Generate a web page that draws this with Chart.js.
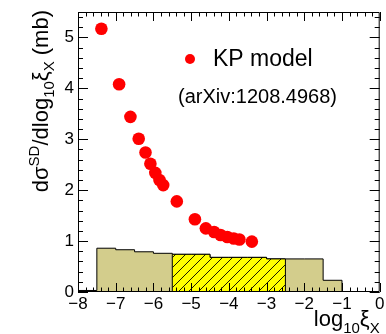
<!DOCTYPE html>
<html>
<head>
<meta charset="utf-8">
<script src="https://cdn.jsdelivr.net/npm/chart.js@4.4.1/dist/chart.umd.min.js"></script>
<style>
  html, body { margin: 0; padding: 0; background: #fff; }
  #wrap { width: 386px; height: 334px; }
</style>
</head>
<body>
<div id="wrap"><canvas id="sdChart" width="386" height="334"></canvas></div>
<script>
// KP model points (log10 xi_X, dsigma/dlog10 xi_X in mb)
const kpX = [-7.38, -6.91, -6.61, -6.39, -6.21, -6.08, -5.95, -5.84, -5.74,
             -5.38, -4.90, -4.61, -4.39, -4.22, -4.04, -3.87, -3.72, -3.39];
const kpY = [5.17, 4.08, 3.44, 3.01, 2.74, 2.52, 2.34, 2.20, 2.10,
             1.78, 1.43, 1.25, 1.18, 1.12, 1.08, 1.05, 1.03, 0.99];

// histogram: lower bin edges and contents, bins are 0.5 wide
const binLow = [-8, -7.5, -7, -6.5, -6, -5.5, -5, -4.5, -4, -3.5, -3, -2.5, -2, -1.5];
const binVal = [0.03, 0.86, 0.83, 0.79, 0.76, 0.74, 0.74, 0.68, 0.68, 0.68, 0.65, 0.65, 0.65, 0.23];
const binWidth = 0.5;
const hatchFrom = -5.5, hatchTo = -2.5;

const xTicks = [-8, -7, -6, -5, -4, -3, -2, -1, 0];
const yTicks = [0, 1, 2, 3, 4, 5];

const FONT = '"Liberation Sans", Arial, Helvetica, sans-serif';

// stepped outline of the bins between lo and hi
function histPoints(lo, hi) {
  const pts = [{ x: lo, y: 0 }];
  binLow.forEach((b, i) => {
    if (b >= lo - 1e-9 && b + binWidth <= hi + 1e-9) pts.push({ x: b, y: binVal[i] });
  });
  pts.push({ x: hi, y: 0 });
  return pts;
}

// yellow with "/" hatching
function hatchPattern() {
  const c = document.createElement("canvas");
  c.width = 10; c.height = 10;
  const g = c.getContext("2d");
  g.fillStyle = "#ffff00";
  g.fillRect(0, 0, 10, 10);
  g.strokeStyle = "#000";
  g.lineWidth = 0.9;
  g.beginPath();
  g.moveTo(-1, 11); g.lineTo(11, -1);
  g.stroke();
  return g.createPattern(c, "repeat");
}

function minusLabel(v) {
  return v < 0 ? "\u2212" + Math.abs(v) : String(v);
}

// draw text pieces with sub/superscripts along +x from (0,0)
function richWidth(ctx, parts) {
  let w = 0;
  parts.forEach(p => { ctx.font = p.size + "px " + FONT; w += ctx.measureText(p.t).width; });
  return w;
}
function richDraw(ctx, parts, x0) {
  let x = x0;
  parts.forEach(p => {
    ctx.font = p.size + "px " + FONT;
    ctx.fillText(p.t, x, p.dy || 0);
    x += ctx.measureText(p.t).width;
  });
}

const framePlugin = {
  id: "frame",
  afterDatasetsDraw(chart) {
    const { ctx, chartArea: a, scales: { x, y } } = chart;
    ctx.save();
    ctx.strokeStyle = "#000";
    ctx.lineWidth = 1;
    ctx.beginPath();
    ctx.rect(a.left + 0.5, a.top + 0.5, a.right - a.left - 1, a.bottom - a.top - 1);
    ctx.stroke();
    ctx.beginPath();
    for (let i = 0; i <= 40; i++) {
      const px = Math.round(x.getPixelForValue(-8 + i * 0.2)) + 0.5;
      const len = i % 5 === 0 ? 9 : 4.5;
      ctx.moveTo(px, a.bottom); ctx.lineTo(px, a.bottom - len);
      ctx.moveTo(px, a.top); ctx.lineTo(px, a.top + len);
    }
    for (let i = 0; i <= 27; i++) {
      const py = Math.round(y.getPixelForValue(i * 0.2)) + 0.5;
      const len = i % 5 === 0 ? 10 : 5;
      ctx.moveTo(a.left, py); ctx.lineTo(a.left + len, py);
      ctx.moveTo(a.right, py); ctx.lineTo(a.right - len, py);
    }
    ctx.stroke();
    ctx.restore();
  },
  afterDraw(chart) {
    const { ctx, chartArea: a } = chart;
    ctx.save();
    ctx.fillStyle = "#000";
    ctx.textBaseline = "alphabetic";

    // x title, right aligned to the frame
    const xt = [
      { t: "log", size: 22 },
      { t: "10", size: 15, dy: 7 },
      { t: "\u03BE", size: 22 },
      { t: "X", size: 15, dy: 7 }
    ];
    ctx.save();
    ctx.translate(0, 326);
    richDraw(ctx, xt, a.right - richWidth(ctx, xt));
    ctx.restore();

    // y title, rotated, ending at the top of the frame
    const yt = [
      { t: "d\u03C3", size: 22 },
      { t: "SD", size: 15, dy: -9 },
      { t: "/dlog", size: 22 },
      { t: "10", size: 15, dy: 6 },
      { t: "\u03BE", size: 22 },
      { t: "X", size: 15, dy: 6 },
      { t: " (mb)", size: 22 }
    ];
    ctx.save();
    ctx.translate(48, 10);
    ctx.rotate(-Math.PI / 2);
    richDraw(ctx, yt, -richWidth(ctx, yt));
    ctx.restore();

    // legend
    ctx.fillStyle = "#ff0000";
    ctx.beginPath();
    ctx.arc(190, 59, 5, 0, Math.PI * 2);
    ctx.fill();
    ctx.fillStyle = "#000";
    ctx.textBaseline = "middle";
    ctx.font = "23px " + FONT;
    ctx.fillText("KP model", 213, 60);
    ctx.font = "20px " + FONT;
    ctx.fillText("(arXiv:1208.4968)", 178, 97);
    ctx.restore();
  }
};

const ctxSd = document.getElementById("sdChart").getContext("2d");
const sdChart = new Chart(ctxSd, {
  type: "scatter",
  data: {
    datasets: [
      {
        label: "KP model",
        data: kpX.map((v, i) => ({ x: v, y: kpY[i] })),
        backgroundColor: "#ff0000",
        borderWidth: 0,
        pointRadius: 6.3,
        pointHoverRadius: 6.3,
        order: 0,
      },
      {
        type: "line",
        label: "hatched",
        data: histPoints(hatchFrom, hatchTo),
        stepped: "before",
        backgroundColor: hatchPattern(),
        borderColor: "#000",
        borderWidth: 1,
        pointRadius: 0,
        fill: "origin",
        order: 1,
      },
      {
        type: "line",
        label: "all",
        data: histPoints(-8, -1),
        stepped: "before",
        backgroundColor: "rgb(211, 205, 140)",
        borderColor: "#000",
        borderWidth: 1,
        pointRadius: 0,
        fill: "origin",
        order: 2,
      },
    ],
  },
  options: {
    responsive: false,
    animation: false,
    layout: { padding: { left: 0, right: 4, top: 12, bottom: 0 } },
    plugins: {
      legend: { display: false },
      tooltip: { enabled: false },
    },
    scales: {
      x: {
        type: "linear",
        min: -8,
        max: 0,
        grid: { display: false, drawTicks: false },
        border: { display: false },
        afterBuildTicks: (s) => { s.ticks = xTicks.map(v => ({ value: v })); },
        afterFit: (s) => { s.height = 42; s.paddingLeft = 0; s.paddingRight = 0; },
        ticks: {
          autoSkip: false,
          maxRotation: 0,
          padding: 2,
          color: "#000",
          font: { family: FONT, size: 17 },
          callback: minusLabel,
        },
      },
      y: {
        min: 0,
        max: 5.5,
        grid: { display: false, drawTicks: false },
        border: { display: false },
        afterBuildTicks: (s) => { s.ticks = yTicks.map(v => ({ value: v })); },
        afterFit: (s) => { s.width = 78; s.paddingTop = 0; s.paddingBottom = 0; },
        ticks: {
          padding: 4,
          color: "#000",
          font: { family: FONT, size: 17 },
          callback: minusLabel,
        },
      },
    },
  },
  plugins: [framePlugin],
});
</script>
</body>
</html>
